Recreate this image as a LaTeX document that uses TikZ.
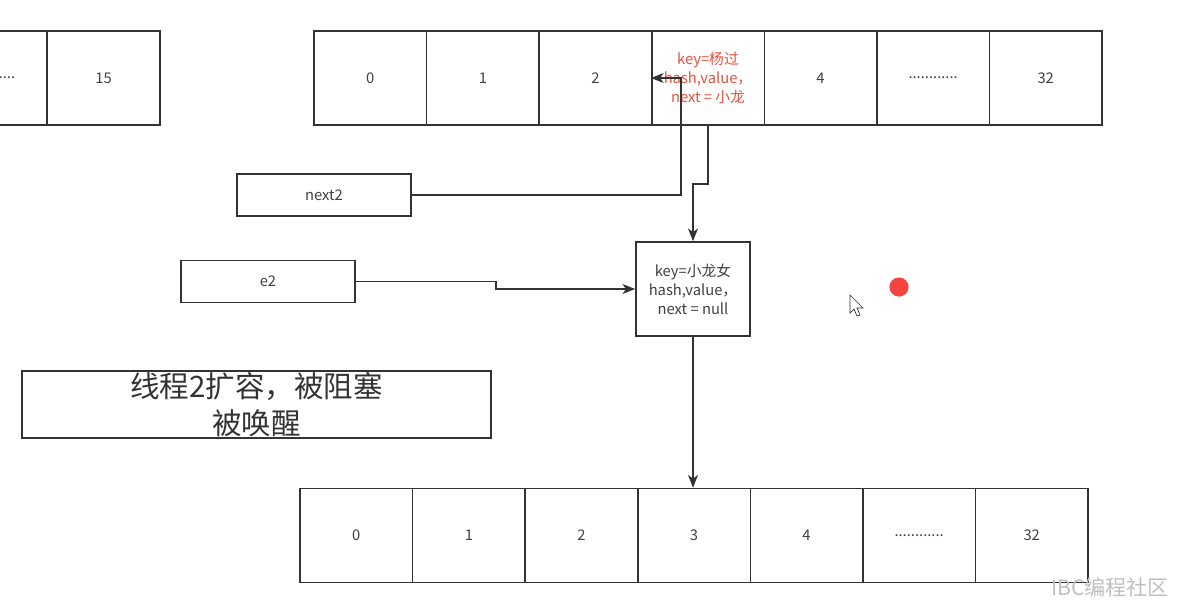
\documentclass[tikz,border=0pt]{standalone}
\usepackage{fontspec}
\setmainfont{Noto Sans CJK SC}
\usetikzlibrary{arrows.meta}
\definecolor{linegray}{HTML}{333333}
\definecolor{keyred}{HTML}{E8503F}
\definecolor{dotred}{HTML}{F54542}
\begin{document}
\begin{tikzpicture}[x=0.025cm,y=-0.025cm,>={Stealth[length=9pt,width=7pt,inset=2.5pt]},
  cell/.style={draw=linegray,line width=1.1pt,minimum width=2.814cm,minimum height=2.35cm,
    inner sep=0pt,font=\fontsize{10.5}{13.5}\selectfont,text=black!75,align=center},
  smallbox/.style={draw=linegray,line width=1.1pt,minimum width=4.35cm,minimum height=1.04cm,
    inner sep=0pt,font=\fontsize{10.5}{13.5}\selectfont,text=black!75},
  link/.style={draw=linegray,line width=1.2pt}]
\useasboundingbox (0,0) rectangle (1180,612);
\clip (0,0) rectangle (1180,612);
% 旧数组
\node[cell] (a14) at (-9.5,78) {............};
\node[cell] (a15) at (103.5,78) {15};
% 线程2的新数组
\foreach \i/\t in {0/0,1/1,2/2,4/4,5/{............},6/32}
  \node[cell] (t\i) at (370.3+112.57*\i,78) {\t};
\node[cell,text=keyred] (t3) at (708,78) {key=杨过\\hash,value，\\next = 小龙};
\foreach \i/\t in {0/0,1/1,2/2,3/3,4/4,5/{............},6/32}
  \node[cell] (b\i) at (356.3+112.57*\i,535.5) {\t};
% 节点与指针
\node[smallbox] (next2) at (324,195) {next2};
\node[smallbox] (e2) at (268,281.5) {e2};
\node[cell,minimum width=2.85cm] (xl) at (693,289) {key=小龙女\\hash,value，\\ next = null};
\node[draw=linegray,line width=1.1pt,minimum width=11.72cm,minimum height=1.68cm,inner sep=0pt,
  align=center,font=\fontsize{21}{26}\selectfont,text=black!80] (msg) at (256.5,404.5)
  {线程2扩容，被阻塞\\被唤醒};
\coordinate (k1) at (681,78);
\coordinate (k2) at (708,184);
\coordinate (k3) at (496,289);
\draw[link,->] (next2.east) -- (next2.east -| k1) -- (k1) -- (t3.west);
\draw[link,->] (t3.south) -- (k2) -- (k2 -| xl.north) -- (xl.north);
\draw[link,->] (e2.east) -- (e2.east -| k3) -- (k3) -- (xl.west);
\draw[link,->] (xl.south) -- (xl.south |- b3.north);
% 鼠标
\fill[dotred] (899,287) circle (0.24cm);
\draw[black!80,fill=white,line width=0.5pt] (850,295) -- (850,313) -- (854,309) -- (857,316)
  -- (860,315) -- (857,308) -- (863,308) -- cycle;
\node[text=black!25,font=\fontsize{15}{15}\selectfont] (wm) at (1110,587) {IBC编程社区};
\end{tikzpicture}
\end{document}
